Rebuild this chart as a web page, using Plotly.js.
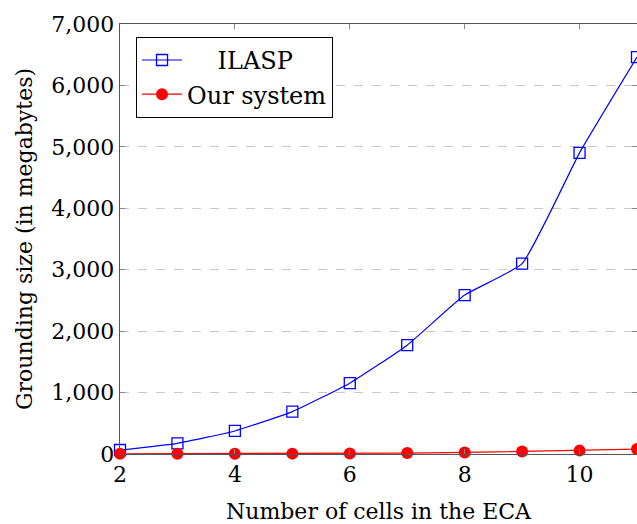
<!DOCTYPE html>
<html>
<head>
<meta charset="utf-8">
<script src="https://cdn.plot.ly/plotly-3.0.1.min.js"></script>
<style>html,body{margin:0;padding:0;background:#fff;}</style>
</head>
<body>
<div id="chart" style="width:637px;height:524px;"></div>
<script>
const cells = [2, 3, 4, 5, 6, 7, 8, 9, 10, 11];
const ilasp = [65, 174, 375, 690, 1153, 1772, 2587, 3098, 4902, 6460];
const ours = [3, 4, 5, 6, 8, 15, 25, 40, 55, 80];
const yTicks = [0, 1000, 2000, 3000, 4000, 5000, 6000, 7000];
const yTickText = ["0", "1,000", "2,000", "3,000", "4,000", "5,000", "6,000", "7,000"];
const xTicks = [2, 4, 6, 8, 10];

const fontFam = "'DejaVu Serif', 'Liberation Serif', serif";

const traces = [
  {
    x: cells, y: ilasp, name: "\u00a0\u00a0\u00a0\u00a0ILASP", type: "scatter", mode: "lines+markers",
    line: {color: "#0000ff", width: 1.2, shape: "spline", smoothing: 0.4},
    marker: {symbol: "square-open", size: 11, color: "#0000ff", line: {width: 1.3}},
    cliponaxis: false
  },
  {
    x: cells, y: ours, name: "Our system", type: "scatter", mode: "lines+markers",
    line: {color: "#ff0000", width: 1.2},
    marker: {symbol: "circle", size: 12, color: "#ff0000"},
    cliponaxis: false
  }
];

const layout = {
  width: 637, height: 524,
  margin: {l: 120, r: 0, t: 24, b: 70},
  paper_bgcolor: "#fff", plot_bgcolor: "#fff",
  font: {family: fontFam, size: 21, color: "#000"},
  showlegend: true,
  legend: {
    x: 0.031, y: 0.97, xanchor: "left", yanchor: "top",
    bgcolor: "#fff", bordercolor: "#000", borderwidth: 1,
    font: {family: fontFam, size: 24, color: "#000"},
    tracegroupgap: 0, itemwidth: 40
  },
  xaxis: {
    range: [2, 11], tickvals: xTicks, ticktext: xTicks.map(String),
    ticks: "inside", ticklen: 5, tickcolor: "#888", tickwidth: 1,
    showline: true, linecolor: "#555", linewidth: 1.3, mirror: "allticks",
    showgrid: false, zeroline: false,
    tickfont: {family: fontFam, size: 22, color: "#000"},
    title: {text: "Number of cells in the ECA", font: {family: fontFam, size: 22, color: "#000"}, standoff: 18}
  },
  yaxis: {
    range: [0, 7000], tickvals: yTicks, ticktext: yTickText,
    ticks: "inside", ticklen: 5, tickcolor: "#888", tickwidth: 1,
    showline: true, linecolor: "#555", linewidth: 1.3, mirror: "allticks",
    showgrid: true, gridcolor: "#c8c8c8", griddash: "dash", gridwidth: 1,
    zeroline: false,
    tickfont: {family: fontFam, size: 22, color: "#000"},
    title: {text: "Grounding size (in megabytes)", font: {family: fontFam, size: 22, color: "#000"}, standoff: 12}
  }
};

Plotly.newPlot("chart", traces, layout, {staticPlot: true, displayModeBar: false});
</script>
</body>
</html>
